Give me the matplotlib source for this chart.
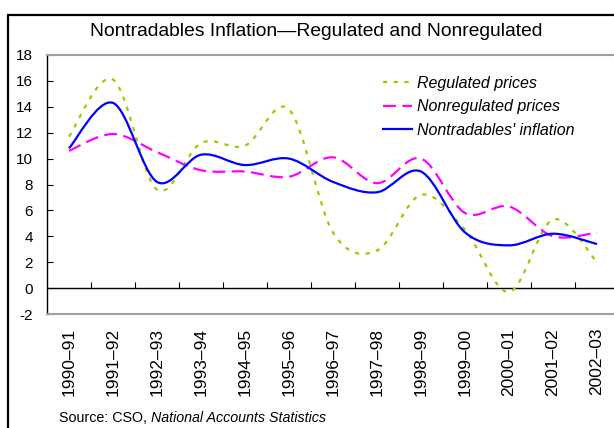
import matplotlib
matplotlib.use("Agg")
import matplotlib.pyplot as plt
from matplotlib.path import Path
from matplotlib.patches import PathPatch, Rectangle
from matplotlib.lines import Line2D
import numpy as np

plt.rcParams['font.family'] = ['Liberation Sans', 'DejaVu Sans']

categories = ["1990–91", "1991–92", "1992–93", "1993–94", "1994–95", "1995–96",
              "1996–97", "1997–98", "1998–99", "1999–00", "2000–01", "2001–02", "2002–03"]
regulated = [11.7, 16.1, 7.6, 11.2, 11.0, 13.8, 4.3, 2.9, 7.2, 4.5, -0.3, 5.3, 2.0]
nonregulated = [10.6, 11.9, 10.5, 9.1, 9.0, 8.6, 10.1, 8.1, 10.0, 5.8, 6.3, 4.0, 4.3]
nontradables = [10.8, 14.3, 8.2, 10.3, 9.5, 10.0, 8.2, 7.4, 9.0, 4.3, 3.3, 4.2, 3.4]
yticks = list(range(-2, 19, 2))

W, H = 614, 428
fig = plt.figure(figsize=(W / 100, H / 100), dpi=100)

# outer frame
fig.patches.append(Rectangle((8 / W, -0.1), 1.2, 1 - 15 / H + 0.1, transform=fig.transFigure,
                             fill=False, edgecolor='black', linewidth=1.6))

ax = fig.add_axes([47 / W, 1 - 314 / H, (619 - 47) / W, (314 - 55) / H])
ax.set_xlim(-0.5, len(categories) - 0.5)
ax.set_ylim(-2, 18)


def smooth_path(xs, ys):
    pts = np.column_stack([xs, ys]).astype(float)
    n = len(pts)
    verts = [pts[0]]
    codes = [Path.MOVETO]
    for i in range(n - 1):
        p0 = pts[i - 1] if i > 0 else pts[i]
        p1 = pts[i]
        p2 = pts[i + 1]
        p3 = pts[i + 2] if i + 2 < n else pts[i + 1]
        c1 = p1 + (p2 - p0) / 6.0
        c2 = p2 - (p3 - p1) / 6.0
        verts += [c1, c2, p2]
        codes += [Path.CURVE4] * 3
    return Path(verts, codes)


x = np.arange(len(categories))
styles = [
    (regulated, '#99CC00', (0, (1.9, 2.9)), 'Regulated prices'),
    (nonregulated, '#FF00FF', (0, (5.8, 2.9)), 'Nonregulated prices'),
    (nontradables, '#0000FF', '-', "Nontradables' inflation"),
]
handles = []
for vals, col, ls, lab in styles:
    patch = PathPatch(smooth_path(x, vals), facecolor='none', edgecolor=col,
                      linewidth=1.6, linestyle=ls, capstyle='butt', zorder=3)
    ax.add_patch(patch)
    handles.append(Line2D([], [], color=col, linewidth=1.6, linestyle=ls, label=lab))

# spines
for s in ['top', 'bottom', 'right']:
    ax.spines[s].set_color('#A0A0A0')
    ax.spines[s].set_linewidth(1.5)
ax.spines['left'].set_color('black')
ax.spines['left'].set_linewidth(1.0)

ax.set_yticks(yticks)
ax.set_yticklabels([str(v) for v in yticks], fontsize=11)
ax.tick_params(axis='y', direction='in', length=4.5, width=0.8, pad=10)

ax.set_xticks(x)
ax.set_xticklabels(categories, rotation=90, fontsize=12.5, va='top', ha='center')
ax.tick_params(axis='x', length=0, pad=10)

# zero line with boundary ticks
ax.axhline(0, color='black', linewidth=1.0, zorder=2)
sec = ax.secondary_xaxis(0.1)
sec.set_xticks(np.arange(0.5, len(categories) - 0.5, 1.0))
sec.set_xticklabels([])
sec.tick_params(direction='in', length=4, width=0.8, color='black')
sec.spines['bottom'].set_visible(False)

leg = ax.legend(handles=handles, loc='upper left', bbox_to_anchor=(383 / W, 1 - 76 / H),
                bbox_transform=fig.transFigure, frameon=False,
                prop={'style': 'italic', 'size': 11.5}, handlelength=1.8, handletextpad=0.35,
                labelspacing=0.52, borderpad=0, borderaxespad=0)

fig.text(316 / W, 1 - 31 / H, "Nontradables Inflation—Regulated and Nonregulated",
         ha='center', va='center', fontsize=13.9)

t1 = fig.text(59 / W, 1 - 418 / H, "Source: CSO, ", ha='left', va='center', fontsize=10.3)
fig.canvas.draw()
bb = t1.get_window_extent()
fig.text(bb.x1 / W, 1 - 418 / H, "National Accounts Statistics", ha='left', va='center',
         fontsize=10.3, style='italic')

fig.savefig('out.png', dpi=100)
